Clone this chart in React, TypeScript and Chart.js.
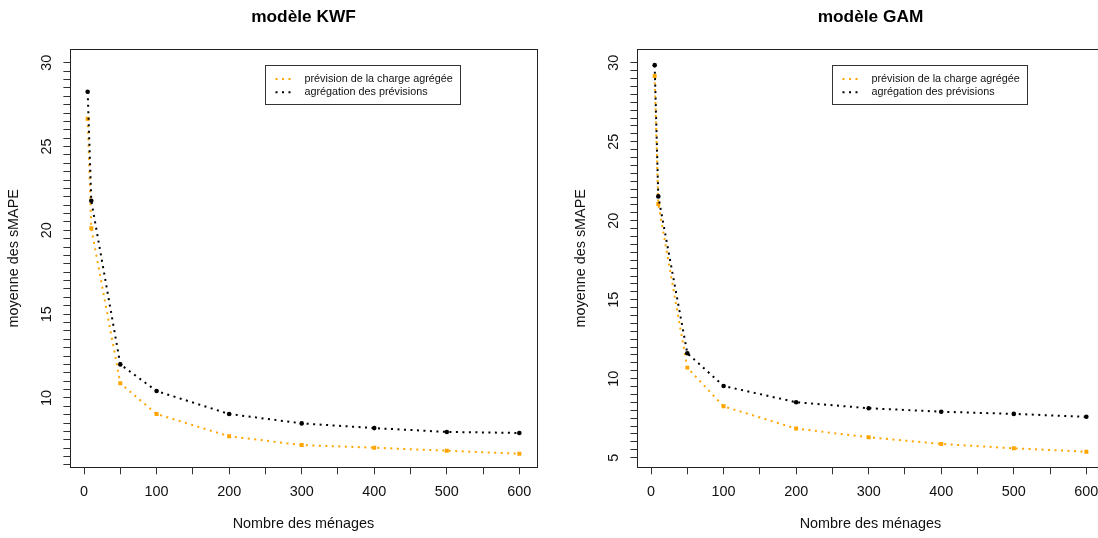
import React, { useEffect, useRef } from 'react';
import { Chart, registerables } from 'chart.js';

Chart.register(...registerables);

const FONT = '"Liberation Sans", Arial, Helvetica, sans-serif';
const ORANGE = '#FFA500';
const BLACK = '#000000';
const TEXT = '#111111';

// Nombre des ménages (x values)
const menages = [5, 10, 50, 100, 200, 300, 400, 500, 600];

// modèle KWF
const kwfChargeAgregee = [26.66, 20.12, 10.87, 9.04, 7.71, 7.19, 7.03, 6.85, 6.67];
const kwfAgregationPrevisions = [28.27, 21.77, 12.0, 10.41, 9.04, 8.48, 8.2, 7.97, 7.91];

// modèle GAM
const gamChargeAgregee = [29.16, 21.06, 10.7, 8.25, 6.84, 6.29, 5.87, 5.59, 5.38];
const gamAgregationPrevisions = [29.85, 21.54, 11.61, 9.54, 8.51, 8.13, 7.91, 7.77, 7.59];

const legendLabels = ['prévision de la charge agrégée', 'agrégation des prévisions'];
const panelTitles = ['modèle KWF', 'modèle GAM'];
const xAxisTitle = 'Nombre des ménages';
const yAxisTitle = 'moyenne des sMAPE';

const xTickValues = [0, 50, 100, 150, 200, 250, 300, 350, 400, 450, 500, 550, 600];
const xLabelEvery = 100;
const yLabelEvery = 5;
const yMinorStep = 0.5;

function range(a: number, b: number, step: number) {
  const out: number[] = [];
  const n = Math.round((b - a) / step);
  for (let i = 0; i <= n; i++) out.push(+(a + i * step).toFixed(4));
  return out;
}

const framePlugin = {
  id: 'rFrame',
  beforeDatasetsDraw(chart: any) {
    const { ctx, chartArea } = chart;
    ctx.save();
    ctx.strokeStyle = '#222';
    ctx.lineWidth = 1;
    const l = Math.round(chartArea.left) + 0.5;
    const t = Math.round(chartArea.top) + 0.5;
    const r = Math.round(chartArea.right) + 0.5;
    const b = Math.round(chartArea.bottom) + 0.5;
    ctx.strokeRect(l, t, r - l, b - t);
    ctx.restore();
  },
};

const legendPlugin = {
  id: 'rLegend',
  afterDatasetsDraw(chart: any) {
    const { ctx, chartArea } = chart;
    const x0 = Math.round(chartArea.left + 194.6) + 0.5;
    const y0 = Math.round(chartArea.top + 15.4) + 0.5;
    const w = 195;
    const h = 39;
    ctx.save();
    ctx.fillStyle = '#fff';
    ctx.fillRect(x0, y0, w, h);
    ctx.strokeStyle = '#333';
    ctx.lineWidth = 1;
    ctx.strokeRect(x0, y0, w, h);
    const items = [...chart.data.datasets].sort((a: any, b: any) => a.legendIndex - b.legendIndex);
    items.forEach((ds: any, i: number) => {
      const y = y0 + 13.6 + i * 13.2;
      ctx.strokeStyle = ds.borderColor;
      ctx.lineWidth = 2;
      ctx.lineCap = 'butt';
      ctx.setLineDash(ds.borderDash);
      ctx.beginPath();
      ctx.moveTo(x0 + 10, y);
      ctx.lineTo(x0 + 27, y);
      ctx.stroke();
      ctx.setLineDash([]);
      ctx.fillStyle = TEXT;
      ctx.font = `10.8px ${FONT}`;
      ctx.textBaseline = 'middle';
      ctx.textAlign = 'left';
      ctx.fillText(ds.label, x0 + 39, y);
    });
    ctx.restore();
  },
};

function makeConfig(
  title: string,
  chargeAgregee: number[],
  agregationPrevisions: number[],
  yMin: number,
  yMax: number,
  yTicks: number[]
): any {
  const tickFont = { family: FONT, size: 14.4 };
  return {
    type: 'scatter',
    data: {
      datasets: [
        {
          label: legendLabels[0],
          legendIndex: 0,
          data: menages.map((x, i) => ({ x, y: chargeAgregee[i] })),
          showLine: true,
          borderColor: ORANGE,
          backgroundColor: ORANGE,
          borderWidth: 2,
          borderDash: [2, 4.5],
          borderCapStyle: 'butt',
          pointStyle: 'rect',
          pointRadius: 2.8,
          pointBorderWidth: 0,
          order: 2,
        },
        {
          label: legendLabels[1],
          legendIndex: 1,
          data: menages.map((x, i) => ({ x, y: agregationPrevisions[i] })),
          showLine: true,
          borderColor: BLACK,
          backgroundColor: BLACK,
          borderWidth: 2,
          borderDash: [2, 4.5],
          borderCapStyle: 'butt',
          pointStyle: 'circle',
          pointRadius: 2.3,
          pointBorderWidth: 0,
          order: 1,
        },
      ],
    },
    options: {
      responsive: false,
      animation: false,
      events: [],
      layout: { padding: { left: 0, right: 30.4, top: 0, bottom: 0 } },
      plugins: {
        legend: { display: false },
        tooltip: { enabled: false },
        title: {
          display: true,
          text: title,
          fullSize: false,
          color: '#000',
          font: { family: FONT, size: 17.3, weight: 'bold' },
          padding: { top: 7.1, bottom: 21.5 },
        },
      },
      scales: {
        x: {
          type: 'linear',
          position: 'bottom',
          min: -18.8,
          max: 623.8,
          afterBuildTicks: (s: any) => {
            s.ticks = xTickValues.map((v) => ({ value: v }));
          },
          afterFit: (s: any) => {
            s.height = 70.7;
          },
          ticks: {
            autoSkip: false,
            minRotation: 0,
            maxRotation: 0,
            padding: 9.5,
            color: TEXT,
            font: tickFont,
            callback: (v: number) => (v % xLabelEvery === 0 ? String(v) : ''),
          },
          grid: { display: true, drawOnChartArea: false, drawTicks: true, tickLength: 7, color: '#333', lineWidth: 1 },
          border: { display: false },
          title: {
            display: true,
            text: xAxisTitle,
            color: TEXT,
            font: tickFont,
            padding: { top: 0, bottom: 5.4 },
          },
        },
        y: {
          type: 'linear',
          position: 'left',
          min: yMin,
          max: yMax,
          afterBuildTicks: (s: any) => {
            s.ticks = yTicks.map((v) => ({ value: v }));
          },
          afterFit: (s: any) => {
            s.width = 70.4;
          },
          ticks: {
            autoSkip: false,
            minRotation: 90,
            maxRotation: 90,
            crossAlign: 'center',
            padding: 8.7,
            color: TEXT,
            font: tickFont,
            callback: (v: number) => (Math.abs(v % yLabelEvery) < 1e-9 ? String(v) : ''),
          },
          grid: { display: true, drawOnChartArea: false, drawTicks: true, tickLength: 7, color: '#333', lineWidth: 1 },
          border: { display: false },
          title: {
            display: true,
            text: yAxisTitle,
            color: TEXT,
            font: tickFont,
            padding: { top: 5.2, bottom: 0 },
          },
        },
      },
    },
    plugins: [framePlugin, legendPlugin],
  };
}

export default function App() {
  const leftRef = useRef<HTMLCanvasElement | null>(null);
  const rightRef = useRef<HTMLCanvasElement | null>(null);

  useEffect(() => {
    const left = new Chart(
      leftRef.current as HTMLCanvasElement,
      makeConfig(panelTitles[0], kwfChargeAgregee, kwfAgregationPrevisions, 5.86, 30.8, range(6, 30, yMinorStep))
    );
    const right = new Chart(
      rightRef.current as HTMLCanvasElement,
      makeConfig(panelTitles[1], gamChargeAgregee, gamAgregationPrevisions, 4.39, 30.85, range(5, 30, yMinorStep))
    );
    return () => {
      left.destroy();
      right.destroy();
    };
  }, []);

  return (
    <div
      style={{
        position: 'fixed',
        left: 0,
        top: 0,
        width: 1098,
        height: 538,
        overflow: 'hidden',
        background: '#fff',
      }}
    >
      <canvas ref={leftRef} width={567} height={538} style={{ position: 'absolute', left: 0, top: 0 }} />
      <canvas ref={rightRef} width={567} height={538} style={{ position: 'absolute', left: 567, top: 0 }} />
    </div>
  );
}
